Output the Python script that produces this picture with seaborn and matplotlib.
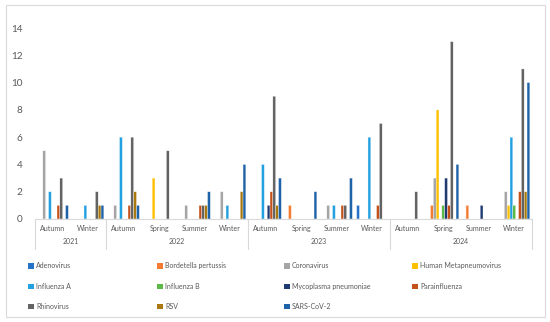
import pandas as pd
import matplotlib
matplotlib.use('Agg')
import matplotlib.pyplot as plt
import seaborn as sns
from matplotlib.patches import Patch, Rectangle

# categories (year / season)
years = ['2021', '2021', '2022', '2022', '2022', '2022',
         '2023', '2023', '2023', '2023', '2024', '2024', '2024', '2024']
seasons = ['Autumn', 'Winter', 'Autumn', 'Spring', 'Summer', 'Winter',
           'Autumn', 'Spring', 'Summer', 'Winter', 'Autumn', 'Spring', 'Summer', 'Winter']

viruses = ['Adenovirus', 'Bordetella pertussis', 'Coronavirus', 'Human Metapneumovirus',
           'Influenza A', 'Influenza B', 'Mycoplasma pneumoniae', 'Parainfluenza',
           'Rhinovirus', 'RSV', 'SARS-CoV-2']

colors = ['#2572C9', '#F47C30', '#A5A5A5', '#FFC000', '#22A0E0', '#5BB947',
          '#1F3A70', '#C4501A', '#636363', '#A9790F', '#1E63A8']

# counts per category, one list per virus
adenovirus  = [0, 0, 0, 0, 0, 0, 0, 0, 0, 1, 0, 0, 0, 0]
bordetella  = [0, 0, 0, 0, 0, 0, 0, 1, 0, 0, 0, 1, 1, 0]
coronavirus = [5, 0, 1, 0, 1, 2, 0, 0, 1, 0, 0, 3, 0, 2]
hmpv        = [0, 0, 0, 3, 0, 0, 0, 0, 0, 0, 0, 8, 0, 1]
influenza_a = [2, 1, 6, 0, 0, 1, 4, 0, 1, 6, 0, 0, 0, 6]
influenza_b = [0, 0, 0, 0, 0, 0, 0, 0, 0, 0, 0, 1, 0, 1]
mycoplasma  = [0, 0, 0, 0, 0, 0, 1, 0, 0, 0, 0, 3, 1, 0]
parainflu   = [1, 0, 1, 0, 1, 0, 2, 0, 1, 1, 0, 1, 0, 2]
rhinovirus  = [3, 2, 6, 5, 1, 0, 9, 0, 1, 7, 2, 13, 0, 11]
rsv         = [0, 1, 2, 0, 1, 2, 1, 0, 0, 0, 0, 0, 0, 2]
sars_cov_2  = [1, 1, 1, 0, 2, 4, 3, 2, 3, 0, 0, 4, 0, 10]

series = [adenovirus, bordetella, coronavirus, hmpv, influenza_a, influenza_b,
          mycoplasma, parainflu, rhinovirus, rsv, sars_cov_2]

cats = [f'{y} {s}' for y, s in zip(years, seasons)]
rows = []
for v, vals in zip(viruses, series):
    for c, n in zip(cats, vals):
        rows.append({'cat': c, 'virus': v, 'count': n})
df = pd.DataFrame(rows)

sns.set_style('white')
plt.rcParams['font.family'] = ['Lato', 'DejaVu Sans']
txt = '#595959'

fig = plt.figure(figsize=(5.5, 3.22), dpi=100)
ax = fig.add_axes([35 / 550, 1 - 219 / 322, 497 / 550, 191 / 322])

sns.barplot(data=df, x='cat', y='count', hue='virus', order=cats, hue_order=viruses,
            palette=colors, width=0.88, gap=0.0, ax=ax, legend=False, saturation=1,
            edgecolor='white', linewidth=0.25)
# thin bars: no pixel snapping so every bar gets the same width
for p in ax.patches:
    p.set_snap(False)

ax.set_ylim(0, 14)
ax.set_xlim(-0.5, len(cats) - 0.5)
ax.set_yticks(range(0, 15, 2))
ax.tick_params(axis='y', length=0, labelsize=7.2, labelcolor=txt, pad=9)
ax.set_xticks([])
ax.set_xlabel('')
ax.set_ylabel('')
for s in ['top', 'right', 'left']:
    ax.spines[s].set_visible(False)
ax.spines['bottom'].set_color('#D9D9D9')
ax.spines['bottom'].set_linewidth(0.8)

tr = ax.get_xaxis_transform()
for i, s in enumerate(seasons):
    ax.text(i, -0.05, s, transform=tr, ha='center', va='center', fontsize=5, color=txt)

# year labels and separators
bounds = [-0.5]
for i in range(1, len(years)):
    if years[i] != years[i - 1]:
        bounds.append(i - 0.5)
bounds.append(len(years) - 0.5)
for a, b in zip(bounds[:-1], bounds[1:]):
    ax.text((a + b) / 2, -0.12, years[int(a + 0.5)], transform=tr, ha='center', va='center',
            fontsize=5, color=txt)
for b in bounds:
    ax.plot([b, b], [0, -0.155], transform=tr, color='#D9D9D9', lw=0.8, clip_on=False)

# legend, filled row-wise in four columns
handles = [Patch(facecolor=c, edgecolor='none') for c in colors]
col_x = [25, 154, 281, 409]
for c in range(4):
    idx = list(range(c, len(viruses), 4))
    fig.legend([handles[i] for i in idx], [viruses[i] for i in idx],
               loc='upper left', bbox_to_anchor=(col_x[c] / 550, 1 - 259 / 322),
               frameon=False, fontsize=5, labelcolor=txt, handlelength=0.8,
               handleheight=0.8, handletextpad=0.3, labelspacing=1.9, borderpad=0)

fig.patches.append(Rectangle((6 / 550, 5 / 322), 539 / 550, 312 / 322, transform=fig.transFigure,
                             fill=False, ec='#D9D9D9', lw=0.8))

fig.savefig('out.png', dpi=100, facecolor='white')
